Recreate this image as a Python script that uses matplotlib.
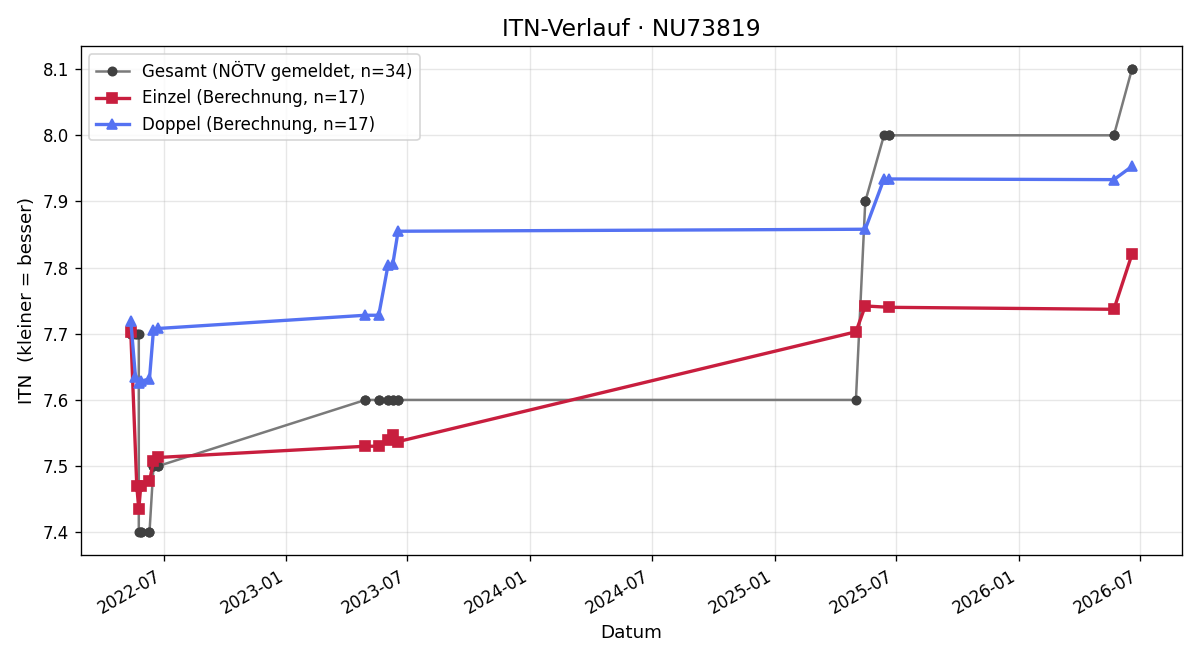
import matplotlib
matplotlib.use('Agg')
import matplotlib.pyplot as plt
import matplotlib.dates as mdates
import pandas as pd

# Einzel-Berechnung
einzel_dates = ['2022-05-13', '2022-05-22', '2022-05-25', '2022-05-28', '2022-06-10',
                '2022-06-16', '2022-06-23', '2023-04-29', '2023-05-19', '2023-06-02',
                '2023-06-09', '2023-06-17', '2025-05-02', '2025-05-16', '2025-06-21',
                '2026-05-23', '2026-06-19']
einzel_itn = [7.703, 7.470, 7.435, 7.470, 7.477, 7.507, 7.513, 7.530, 7.530, 7.540,
              7.547, 7.537, 7.703, 7.742, 7.740, 7.737, 7.820]

# Doppel-Berechnung
doppel_dates = ['2022-05-13', '2022-05-20', '2022-05-25', '2022-05-28', '2022-06-10',
                '2022-06-16', '2022-06-23', '2023-04-29', '2023-05-19', '2023-06-02',
                '2023-06-09', '2023-06-17', '2025-05-16', '2025-06-13', '2025-06-21',
                '2026-05-23', '2026-06-19']
doppel_itn = [7.720, 7.635, 7.625, 7.628, 7.632, 7.706, 7.708, 7.728, 7.728, 7.804,
              7.805, 7.855, 7.858, 7.934, 7.934, 7.933, 7.953]

# Gesamt (NÖTV gemeldet), 34 Meldungen
gesamt_dates = ['2022-05-13', '2022-05-13', '2022-05-20', '2022-05-22', '2022-05-25',
                '2022-05-25', '2022-05-28', '2022-05-28', '2022-06-10', '2022-06-10',
                '2022-06-16', '2022-06-16', '2022-06-23', '2022-06-23', '2023-04-29',
                '2023-04-29', '2023-05-19', '2023-05-19', '2023-06-02', '2023-06-02',
                '2023-06-09', '2023-06-09', '2023-06-17', '2023-06-17', '2025-05-02',
                '2025-05-16', '2025-05-16', '2025-06-13', '2025-06-21', '2025-06-21',
                '2026-05-23', '2026-05-23', '2026-06-19', '2026-06-19']
gesamt_itn = [7.7, 7.7, 7.7, 7.7, 7.7, 7.4, 7.4, 7.4, 7.4, 7.4,
              7.5, 7.5, 7.5, 7.5, 7.6, 7.6, 7.6, 7.6, 7.6, 7.6,
              7.6, 7.6, 7.6, 7.6, 7.6, 7.9, 7.9, 8.0, 8.0, 8.0,
              8.0, 8.0, 8.1, 8.1]

fig, ax = plt.subplots(figsize=(10, 5.5), dpi=120)

ax.plot(pd.to_datetime(gesamt_dates), gesamt_itn, color='#7a7a7a', linewidth=1.5,
        marker='o', markersize=5, markerfacecolor='#404040', markeredgecolor='#404040',
        label='Gesamt (NÖTV gemeldet, n=34)')
ax.plot(pd.to_datetime(einzel_dates), einzel_itn, color='#c81e3e', linewidth=2,
        marker='s', markersize=6, label='Einzel (Berechnung, n=17)')
ax.plot(pd.to_datetime(doppel_dates), doppel_itn, color='#5572f2', linewidth=2,
        marker='^', markersize=6, label='Doppel (Berechnung, n=17)')

ax.xaxis.set_major_locator(mdates.MonthLocator(bymonth=[1, 7]))
ax.xaxis.set_major_formatter(mdates.DateFormatter('%Y-%m'))
fig.autofmt_xdate()

ax.set_title('ITN-Verlauf · NU73819', fontsize=14)
ax.set_xlabel('Datum', fontsize=11)
ax.set_ylabel('ITN  (kleiner = besser)', fontsize=11)
ax.grid(True, alpha=0.3)
ax.legend(loc='upper left')

plt.tight_layout()
plt.savefig('out.png', dpi=120)
plt.close()
